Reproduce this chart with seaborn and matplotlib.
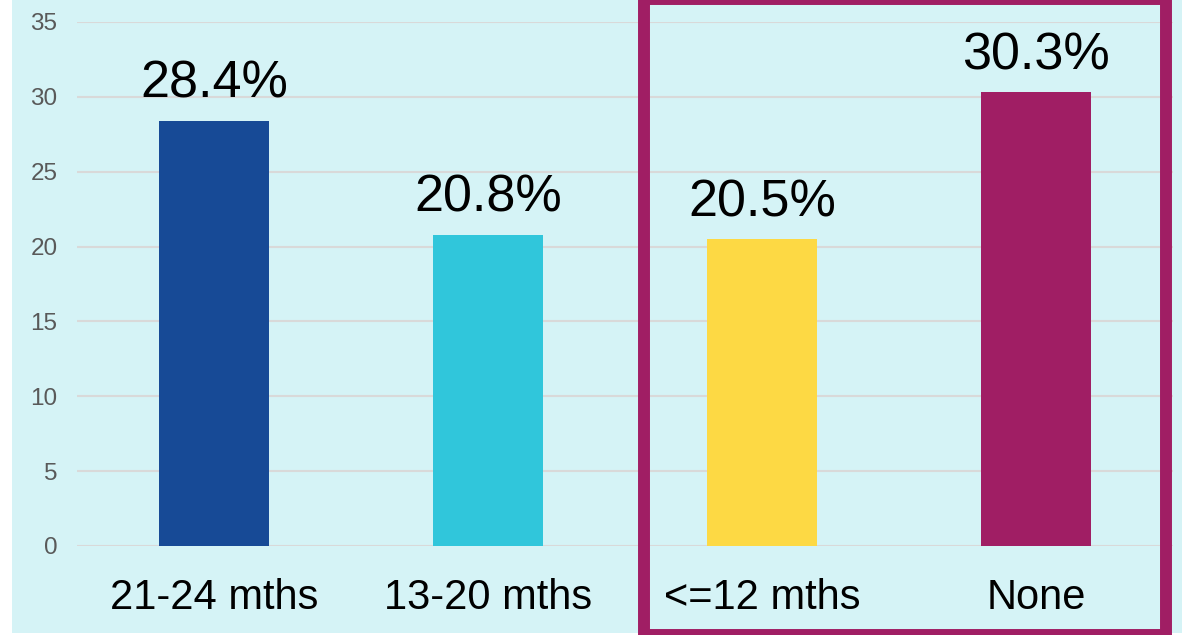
import numpy as np
import pandas as pd
import matplotlib.pyplot as plt
import matplotlib.patches as patches
import seaborn as sns

# --- datos ---
categorias = ["21-24 mths", "13-20 mths", "<=12 mths", "None"]
valores = [28.4, 20.8, 20.5, 30.3]
colores = ["#174A96", "#30C6DB", "#FDD944", "#A01E64"]
yticks = [0, 5, 10, 15, 20, 25, 30, 35]

df = pd.DataFrame({"cat": categorias, "val": valores})

sns.set_style("white")
plt.rcParams["font.family"] = ["Liberation Sans", "DejaVu Sans"]

fondo = "#D5F3F6"
fig = plt.figure(figsize=(11.82, 6.35), dpi=100, facecolor=fondo)
ax = fig.add_axes([77 / 1182, 1 - 546 / 635, (1173 - 77) / 1182, (546 - 22) / 635])
ax.set_facecolor(fondo)

sns.barplot(data=df, x="cat", y="val", hue="cat", palette=colores,
            width=0.4, saturation=1, legend=False, linewidth=0, ax=ax, zorder=3)

# --- etiquetas de valor ---
for i, v in enumerate(valores):
    ax.annotate(f"{v}%", (i, v), xytext=(0, 16.5), textcoords="offset points",
                ha="center", va="baseline", fontsize=37.5, color="black")

ax.set_ylim(0, 35)
ax.set_xlim(-0.5, 3.5)
ax.set_yticks(yticks)
ax.yaxis.grid(True, color="#D9D9D9", linewidth=1.5, zorder=0)
ax.set_axisbelow(True)
for s in ax.spines.values():
    s.set_visible(False)
ax.tick_params(axis="y", length=0, pad=14, labelsize=17.5, labelcolor="#595959")
ax.tick_params(axis="x", length=0, pad=23, labelsize=30, labelcolor="black")
ax.set_xlabel("")
ax.set_ylabel("")

# --- bordes blancos ---
fig.patches.append(patches.Rectangle((0, 0), 12 / 1182, 1, transform=fig.transFigure,
                                     facecolor="white", edgecolor="none", zorder=0))
fig.patches.append(patches.Rectangle((0, 0), 1, 2 / 635, transform=fig.transFigure,
                                     facecolor="white", edgecolor="none", zorder=0))

# --- recuadro magenta ---
fig.patches.append(patches.Rectangle((644 / 1182, 0), (1166 - 644) / 1182,
                                     636 / 635, transform=fig.transFigure,
                                     facecolor="none", edgecolor="#A01E64",
                                     linewidth=8.6, zorder=5))

fig.savefig("out.png", dpi=100, facecolor=fig.get_facecolor())
